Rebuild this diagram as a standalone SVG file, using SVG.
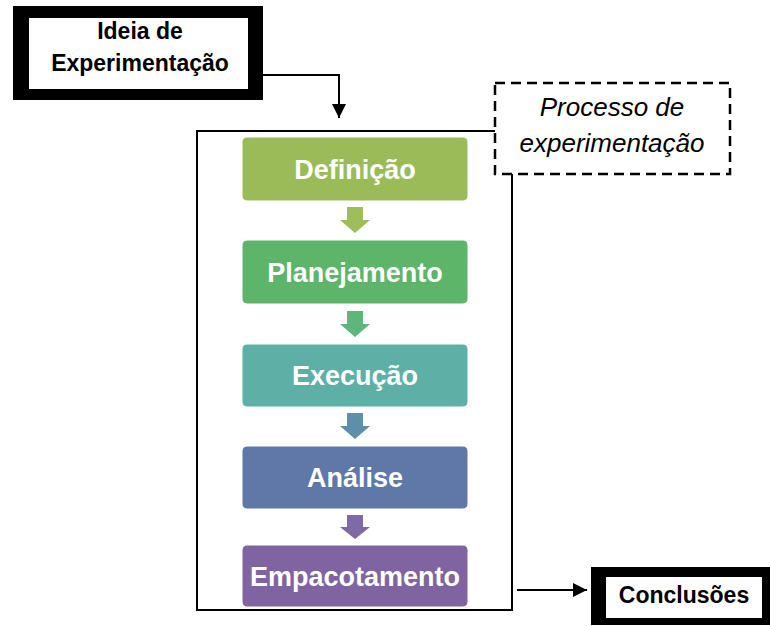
<svg xmlns="http://www.w3.org/2000/svg" width="770" height="626" viewBox="0 0 770 626">
<style>
.step{stroke:#ffffff;stroke-width:1}
.stext{font-family:"Liberation Sans",Arial,sans-serif;font-weight:bold;font-size:27px;fill:#ffffff;text-anchor:middle}
.btext{font-family:"Liberation Sans",Arial,sans-serif;font-weight:bold;font-size:23px;fill:#000000;text-anchor:middle}
.itext{font-family:"Liberation Sans",Arial,sans-serif;font-style:italic;font-size:26px;fill:#000000;text-anchor:middle}
.line{fill:none;stroke:#000000;stroke-width:2}
</style>
<defs>
<marker id="ah" viewBox="0 0 14 14" refX="14" refY="7" markerWidth="14" markerHeight="14" markerUnits="userSpaceOnUse" orient="auto">
<path d="M0,0 L14,7 L0,14 Z" fill="#000000"/>
</marker>
</defs>
<rect width="770" height="626" fill="#ffffff"/>

<g id="container">
<rect x="197" y="131" width="315" height="479" fill="#ffffff" stroke="#000000" stroke-width="2"/>
</g>

<g id="connectors">
<path class="line" d="M263,75 H339 V118" marker-end="url(#ah)"/>
<path class="line" d="M517,590 H587" marker-end="url(#ah)"/>
<polygon points="347,207 363,207 363,220 370,220 355,233 340,220 347,220" fill="#9EBE5C"/>
<polygon points="347,311 363,311 363,324 370,324 355,337 340,324 347,324" fill="#5DB67A"/>
<polygon points="347,413 363,413 363,426 370,426 355,439 340,426 347,426" fill="#5E8FAA"/>
<polygon points="347,515 363,515 363,527 370,527 355,539 340,527 347,527" fill="#7E6AA6"/>
</g>

<g id="ideia">
<rect x="13" y="6" width="250" height="94" fill="#000000"/>
<rect x="29" y="18" width="219" height="71" fill="#ffffff"/>
<text class="btext" x="140" y="39">Ideia de</text>
<text class="btext" x="140" y="71">Experimentação</text>
</g>

<g id="processo">
<rect x="495" y="83" width="235" height="91" fill="#ffffff" stroke="#000000" stroke-width="2.5" stroke-dasharray="10,6"/>
<text class="itext" x="612" y="116">Processo de</text>
<text class="itext" x="612" y="152">experimentação</text>
</g>

<g id="definicao">
<rect class="step" x="242" y="137" width="226" height="64" rx="5" fill="#9BBB59"/>
<text class="stext" x="355" y="179">Definição</text>
</g>
<g id="planejamento">
<rect class="step" x="242" y="240" width="226" height="64" rx="5" fill="#5CB568"/>
<text class="stext" x="355" y="282">Planejamento</text>
</g>
<g id="execucao">
<rect class="step" x="242" y="344" width="226" height="63" rx="5" fill="#5EAFA5"/>
<text class="stext" x="355" y="385">Execução</text>
</g>
<g id="analise">
<rect class="step" x="242" y="446" width="226" height="63" rx="5" fill="#5F78A8"/>
<text class="stext" x="355" y="487">Análise</text>
</g>
<g id="empacotamento">
<rect class="step" x="242" y="545" width="226" height="62" rx="5" fill="#8064A2"/>
<text class="stext" x="355" y="586">Empacotamento</text>
</g>

<g id="conclusoes">
<rect x="591" y="567" width="179" height="58" fill="#000000"/>
<rect x="606" y="577" width="156" height="41" fill="#ffffff"/>
<text class="btext" x="684" y="603">Conclusões</text>
</g>
</svg>
